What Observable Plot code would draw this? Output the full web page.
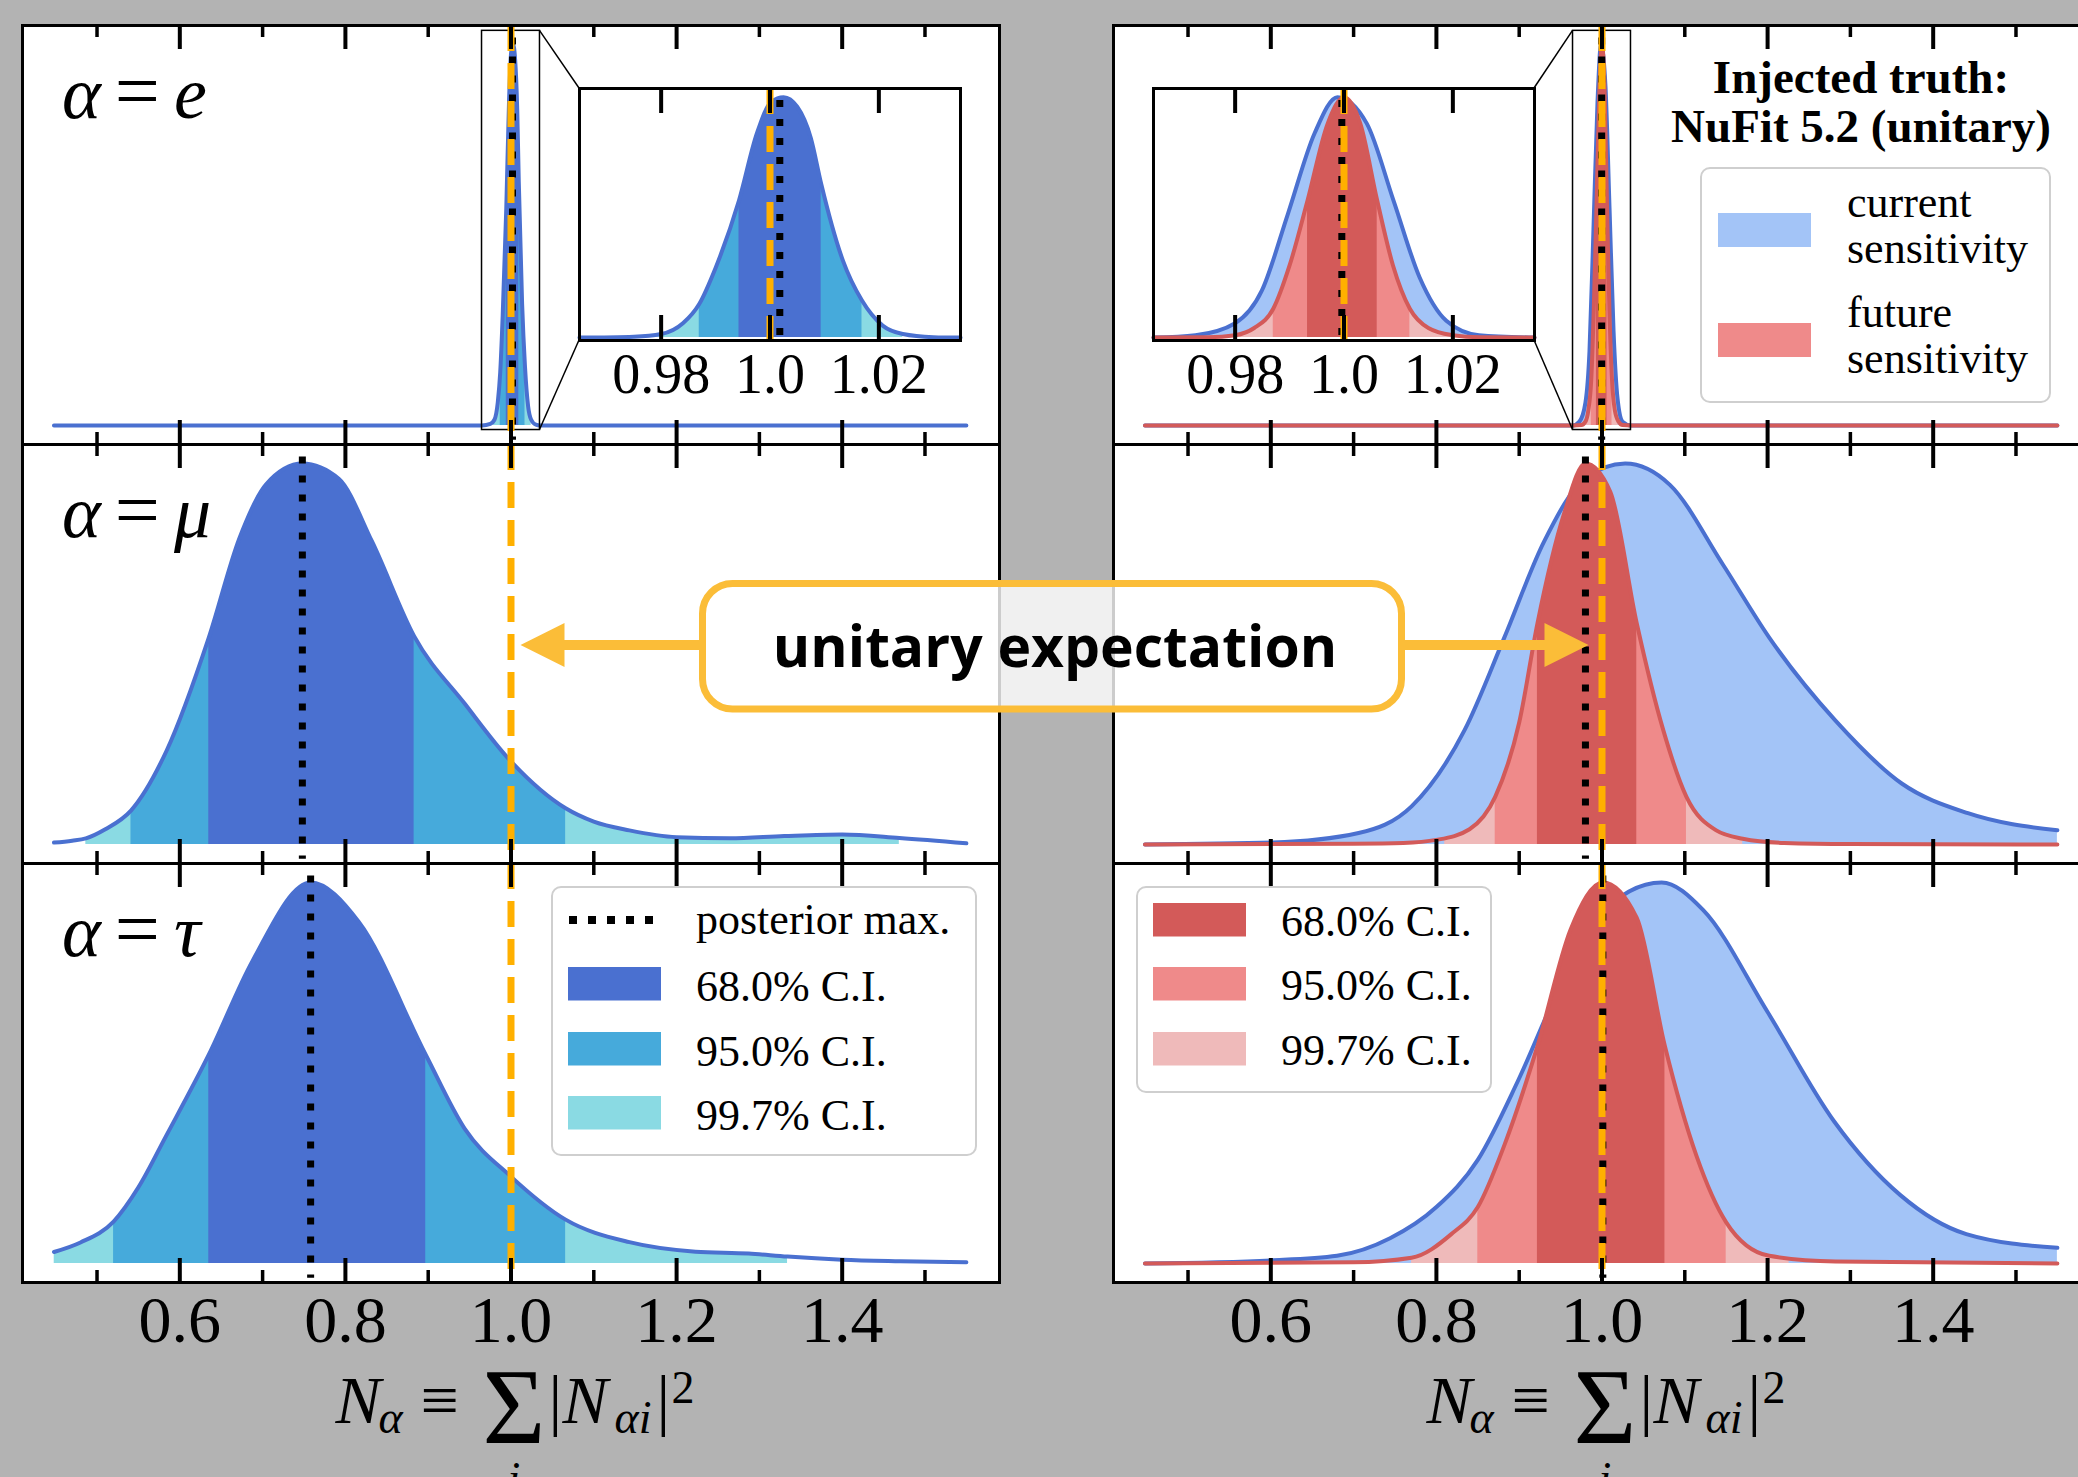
<!DOCTYPE html>
<html>
<head>
<meta charset="utf-8">
<script src="https://cdn.jsdelivr.net/npm/d3@7"></script>
<script src="https://cdn.jsdelivr.net/npm/@observablehq/plot@0.6"></script>
<style>
  html, body { margin: 0; padding: 0; background: #b3b3b3; overflow: hidden; }
  #fig { position: relative; width: 2078px; height: 1477px; overflow: hidden; background: #b3b3b3; }
  .pane { position: absolute; }
  .pane svg { display: block; overflow: visible; max-width: none !important; }
</style>
</head>
<body>
<div id="fig"></div>
<script>
// ---------------- data ----------------
const majorTicks = [0.6, 0.8, 1.0, 1.2, 1.4];
const majorTickLabels = ["0.6", "0.8", "1.0", "1.2", "1.4"];
const minorTicks = [0.5, 0.7, 0.9, 1.1, 1.3, 1.5];
const insetTicks = [0.98, 1.0, 1.02];
const insetTickLabels = ["0.98", "1.0", "1.02"];
const mainXDomain = [0.41, 1.59];
const insetXDomain = [0.965, 1.035];
const mainYDomain = [-0.05, 1.05];
const insetYDomain = [-0.012, 1.036];
const unitaryValue = 1.0;
const flavourLabels = ["e", "μ", "τ"];
const ciLabels = ["68.0% C.I.", "95.0% C.I.", "99.7% C.I."];
const posteriorLabel = "posterior max.";
const sensitivityLabels = [["current", "sensitivity"], ["future", "sensitivity"]];
const truthTitle = ["Injected truth:", "NuFit 5.2 (unitary)"];
const annotationText = "unitary expectation";

// Left column: current sensitivity (fit to data)
const curE_x = [0.448, 0.965, 0.975, 0.980, 0.984, 0.987, 0.990, 0.9943, 0.9976, 1.0002, 1.0025, 1.005, 1.0075, 1.0094, 1.0134, 1.0169, 1.0207, 1.0244, 1.030, 1.035, 1.55];
const curE_y = [0, 0, 0.004, 0.015, 0.06, 0.14, 0.29, 0.57, 0.85, 0.98, 1.0, 0.96, 0.83, 0.64, 0.32, 0.154, 0.05, 0.015, 0.002, 0, 0];
const curMu_x = [0.448, 0.47, 0.4865, 0.51, 0.541, 0.584, 0.635, 0.672, 0.704, 0.748, 0.792, 0.832, 0.883, 0.944, 1.0, 1.066, 1.10, 1.143, 1.2, 1.264, 1.33, 1.4, 1.469, 1.55];
const curMu_y = [0.005, 0.01, 0.016, 0.04, 0.089, 0.246, 0.543, 0.804, 0.945, 1.0, 0.96, 0.796, 0.547, 0.37, 0.218, 0.095, 0.06, 0.037, 0.019, 0.016, 0.022, 0.026, 0.017, 0.003];
const curTau_x = [0.448, 0.48, 0.52, 0.55, 0.583, 0.635, 0.688, 0.758, 0.816, 0.897, 0.944, 1.0, 1.066, 1.143, 1.223, 1.287, 1.334, 1.4, 1.47, 1.55];
const curTau_y = [0.03, 0.055, 0.11, 0.2, 0.333, 0.548, 0.795, 1.0, 0.897, 0.548, 0.354, 0.228, 0.115, 0.056, 0.031, 0.026, 0.018, 0.01, 0.006, 0.003];
const curE_ci = [[0.9943, 1.0094], [0.987, 1.0169], [0.979, 1.0244]];
const curMu_ci = [[0.635, 0.883], [0.541, 1.066], [0.4865, 1.469]];
const curTau_ci = [[0.635, 0.897], [0.52, 1.066], [0.448, 1.334]];
const curMax = [1.0018, 0.748, 0.758];

// Right column: injected unitary truth, current sensitivity
const uniE_x = [0.448, 0.965, 0.9727, 0.980, 0.9849, 0.9897, 0.9946, 0.9988, 1.0042, 1.0091, 1.0139, 1.0188, 1.0248, 1.035, 1.55];
const uniE_y = [0, 0, 0.01, 0.06, 0.195, 0.515, 0.85, 1.0, 0.89, 0.57, 0.25, 0.07, 0.01, 0, 0];
const uniMu_x = [0.448, 0.602, 0.706, 0.77, 0.834, 0.882, 0.93, 0.979, 1.028, 1.082, 1.146, 1.202, 1.282, 1.362, 1.442, 1.55];
const uniMu_y = [0.0, 0.005, 0.03, 0.10, 0.30, 0.543, 0.795, 0.96, 1.0, 0.944, 0.735, 0.543, 0.325, 0.16, 0.082, 0.037];
const uniTau_x = [0.448, 0.60, 0.68, 0.744, 0.80, 0.85, 0.898, 0.946, 0.994, 1.072, 1.122, 1.2, 1.28, 1.36, 1.44, 1.55];
const uniTau_y = [0.0, 0.008, 0.02, 0.066, 0.148, 0.272, 0.477, 0.712, 0.907, 1.0, 0.928, 0.66, 0.374, 0.18, 0.077, 0.041];

// Right column: injected unitary truth, future sensitivity
const futE_x = [0.448, 0.965, 0.975, 0.980, 0.9835, 0.987, 0.990, 0.9933, 0.997, 1.0, 1.003, 1.0061, 1.009, 1.0121, 1.0155, 1.020, 1.025, 1.035, 1.55];
const futE_y = [0, 0, 0.001, 0.01, 0.04, 0.12, 0.30, 0.57, 0.89, 1.0, 0.89, 0.57, 0.30, 0.12, 0.04, 0.01, 0.001, 0, 0];
const futMu_x = [0.448, 0.70, 0.76, 0.80, 0.84, 0.871, 0.90, 0.922, 0.954, 0.98, 1.01, 1.042, 1.074, 1.102, 1.138, 1.17, 1.22, 1.30, 1.55];
const futMu_y = [0, 0.002, 0.004, 0.012, 0.04, 0.125, 0.32, 0.58, 0.867, 1.0, 0.926, 0.58, 0.30, 0.125, 0.037, 0.015, 0.004, 0.001, 0];
const futTau_x = [0.448, 0.70, 0.77, 0.818, 0.85, 0.882, 0.922, 0.962, 1.001, 1.042, 1.076, 1.114, 1.15, 1.202, 1.282, 1.55];
const futTau_y = [0, 0.003, 0.015, 0.077, 0.148, 0.31, 0.57, 0.876, 1.0, 0.907, 0.57, 0.283, 0.108, 0.02, 0.005, 0];
const futE_ci = [[0.9933, 1.0061], [0.987, 1.0121], [0.9805, 1.0195]];
const futMu_ci = [[0.922, 1.042], [0.871, 1.102], [0.81, 1.17]];
const futTau_ci = [[0.922, 1.076], [0.85, 1.15], [0.77, 1.226]];
const futMax = [0.9996, 0.98, 1.001];

// ---------------- styling ----------------
const COL = {
  blue68: "#4a70d0", blue95: "#46aadb", blue99: "#8adae3", blueLine: "#4a70d0",
  curFill: "#a3c4f7",
  red68: "#d35a59", red95: "#ef8a8a", red99: "#efbaba", redLine: "#d35a59",
  orange: "#ffb000", gold: "#fbbd38", legendEdge: "#cfcfcf"
};
const SERIF = "Liberation Serif, Times New Roman, serif";
const fig = document.getElementById("fig");
const W = 977, H = 419;
const colLeft = [22, 1113];
const rowTop = [25, 444, 863];
const insetLeft = [579, 1153], insetTop = 88, insetW = 381, insetH = 252;

const rows = (xs, ys) => xs.map((x, i) => ({x, y: ys[i]}));
const bandsOf = (ci, colors) => ci.map((c, k) => ({lo: c[0], hi: c[1], color: colors[k]}));
const inInset = d => d.x >= insetXDomain[0] && d.x <= insetXDomain[1];
const blueBands = [COL.blue68, COL.blue95, COL.blue99];
const redBands = [COL.red68, COL.red95, COL.red99];

let clipUid = 0;
function renderPanel(o) {
  const marks = [];
  const clipList = [];
  for (const s of o.series) {
    if (s.fill) marks.push(Plot.areaY(s.data, {x: "x", y: "y", fill: s.fill, curve: "monotone-x"}));
    if (s.bands) for (let k = s.bands.length - 1; k >= 0; k--) {
      marks.push(Plot.areaY(s.data, {x: "x", y: "y", fill: s.bands[k].color, curve: "monotone-x"}));
      clipList.push(s.bands[k]);
    }
    marks.push(Plot.lineY(s.data, {x: "x", y: "y", stroke: s.stroke, strokeWidth: 4, curve: "monotone-x"}));
  }
  if (o.box) marks.push(Plot.rect([o.box], {x1: "x1", x2: "x2", y1: "y1", y2: "y2", fill: "none", stroke: "black", strokeWidth: 1.5}));
  marks.push(Plot.ruleX([o.max], {stroke: "black", strokeWidth: 7, strokeDasharray: "7,12", insetTop: o.maxInset[0], insetBottom: o.maxInset[1]}));
  marks.push(Plot.ruleX([unitaryValue], {stroke: COL.orange, strokeWidth: 7, strokeDasharray: "26,12"}));
  for (const [vals, len, sw] of o.ticks) {
    marks.push(Plot.ruleX(vals, {stroke: "black", strokeWidth: sw, insetBottom: o.height - len}));
    marks.push(Plot.ruleX(vals, {stroke: "black", strokeWidth: sw, insetTop: o.height - len}));
  }
  if (o.labels) marks.push(Plot.text(o.labels.vals, {x: d => d, text: (d, i) => o.labels.text[i], frameAnchor: "bottom", lineAnchor: "top", dy: 13, fontSize: o.labels.size, fill: "black", fontFamily: SERIF}));
  marks.push(Plot.frame({stroke: "black", strokeWidth: 3}));
  const svg = Plot.plot({
    width: o.width, height: o.height, margin: 0,
    x: {domain: o.xDomain, axis: null},
    y: {domain: o.yDomain, axis: null},
    style: {background: "white", overflow: "visible", fontFamily: SERIF, color: "black"},
    marks
  });
  const xs = svg.scale("x"), ys = svg.scale("y");
  const fx = xs.apply ? v => xs.apply(v) : d3.scaleLinear(xs.domain, xs.range);
  const fy = ys.apply ? v => ys.apply(v) : d3.scaleLinear(ys.domain, ys.range);
  // clip the credible-interval bands to their x-ranges
  const ns = "http://www.w3.org/2000/svg";
  const defs = document.createElementNS(ns, "defs");
  svg.insertBefore(defs, svg.firstChild);
  const areaGroups = Array.from(svg.querySelectorAll('g[aria-label="area"]'));
  for (const b of clipList) {
    const id = "bandclip" + (clipUid++);
    const cp = document.createElementNS(ns, "clipPath");
    cp.setAttribute("id", id);
    const r = document.createElementNS(ns, "rect");
    const a = fx(b.lo), c = fx(b.hi);
    r.setAttribute("x", a); r.setAttribute("width", c - a);
    r.setAttribute("y", -20); r.setAttribute("height", o.height + 40);
    cp.appendChild(r); defs.appendChild(cp);
    for (const g of areaGroups) if ((g.getAttribute("fill") || "").toLowerCase() === b.color) g.setAttribute("clip-path", `url(#${id})`);
  }
  const div = document.createElement("div");
  div.className = "pane";
  div.style.left = o.left + "px"; div.style.top = o.top + "px";
  div.style.width = o.width + "px"; div.style.height = o.height + "px";
  div.appendChild(svg);
  fig.appendChild(div);
  return {svg, fx, fy};
}

const leftSeries = [
  {data: rows(curE_x, curE_y), ci: curE_ci},
  {data: rows(curMu_x, curMu_y), ci: curMu_ci},
  {data: rows(curTau_x, curTau_y), ci: curTau_ci}
];
const rightCur = [rows(uniE_x, uniE_y), rows(uniMu_x, uniMu_y), rows(uniTau_x, uniTau_y)];
const rightFut = [
  {data: rows(futE_x, futE_y), ci: futE_ci},
  {data: rows(futMu_x, futMu_y), ci: futMu_ci},
  {data: rows(futTau_x, futTau_y), ci: futTau_ci}
];
const insetRect = {x1: insetXDomain[0], x2: insetXDomain[1], y1: insetYDomain[0], y2: insetYDomain[1]};

const mains = [[], []];
for (let r = 0; r < 3; r++) {
  const common = {
    width: W, height: H, top: rowTop[r], xDomain: mainXDomain, yDomain: mainYDomain,
    maxInset: [12.6, 4.2],
    ticks: [[majorTicks, 24, 4], [minorTicks, 12, 3.5]],
    labels: r === 2 ? {vals: majorTicks, text: majorTickLabels, size: 66} : null,
    box: r === 0 ? insetRect : null
  };
  mains[0][r] = renderPanel({...common, left: colLeft[0], max: curMax[r],
    series: [{data: leftSeries[r].data, bands: bandsOf(leftSeries[r].ci, blueBands), stroke: COL.blueLine}]});
  mains[1][r] = renderPanel({...common, left: colLeft[1], max: futMax[r],
    series: [
      {data: rightCur[r], fill: COL.curFill, stroke: COL.blueLine},
      {data: rightFut[r].data, bands: bandsOf(rightFut[r].ci, redBands), stroke: COL.redLine}
    ]});
}

// zoom insets (alpha = e)
const insetCommon = {
  width: insetW, height: insetH, top: insetTop, xDomain: insetXDomain, yDomain: insetYDomain,
  maxInset: [12, 3], ticks: [[insetTicks, 25, 4]],
  labels: {vals: insetTicks, text: insetTickLabels, size: 56}
};
renderPanel({...insetCommon, left: insetLeft[0], max: curMax[0],
  series: [{data: leftSeries[0].data.filter(inInset), bands: bandsOf(curE_ci, blueBands), stroke: COL.blueLine}]});
renderPanel({...insetCommon, left: insetLeft[1], max: futMax[0],
  series: [
    {data: rightCur[0].filter(inInset), fill: COL.curFill, stroke: COL.blueLine},
    {data: rightFut[0].data.filter(inInset), bands: bandsOf(futE_ci, redBands), stroke: COL.redLine}
  ]});

// ---------------- overlay: annotations, legends, labels ----------------
const NS = "http://www.w3.org/2000/svg";
const ov = document.createElementNS(NS, "svg");
ov.setAttribute("width", 2078); ov.setAttribute("height", 1477);
ov.style.position = "absolute"; ov.style.left = "0px"; ov.style.top = "0px";
fig.appendChild(ov);
function add(parent, tag, attrs, text) {
  const e = document.createElementNS(NS, tag);
  for (const k in attrs) e.setAttribute(k, attrs[k]);
  if (text != null) e.textContent = text;
  parent.appendChild(e);
  return e;
}

// inset connector lines
{
  const m = mains[0][0];
  const rx = colLeft[0] + m.fx(insetXDomain[1]);
  const t = rowTop[0] + m.fy(insetYDomain[1]), b = rowTop[0] + m.fy(insetYDomain[0]);
  add(ov, "line", {x1: rx, y1: t, x2: insetLeft[0], y2: insetTop, stroke: "black", "stroke-width": 1.5});
  add(ov, "line", {x1: rx, y1: b, x2: insetLeft[0], y2: insetTop + insetH, stroke: "black", "stroke-width": 1.5});
  const m2 = mains[1][0];
  const lx = colLeft[1] + m2.fx(insetXDomain[0]);
  add(ov, "line", {x1: lx, y1: t, x2: insetLeft[1] + insetW, y2: insetTop, stroke: "black", "stroke-width": 1.5});
  add(ov, "line", {x1: lx, y1: b, x2: insetLeft[1] + insetW, y2: insetTop + insetH, stroke: "black", "stroke-width": 1.5});
}

// row labels
for (let r = 0; r < 3; r++) {
  const t = add(ov, "text", {x: 62, y: rowTop[r] + 93, "font-family": SERIF, "font-size": 74, fill: "black"});
  add(t, "tspan", {"font-style": "italic"}, "α");
  add(t, "tspan", {dx: 14, "font-size": 80}, "=");
  add(t, "tspan", {dx: 14, "font-style": "italic"}, flavourLabels[r]);
}

// legend: left (posterior max + blue CIs)
{
  add(ov, "rect", {x: 552, y: 887, width: 424, height: 268, rx: 9, fill: "white", "fill-opacity": 0.85, stroke: COL.legendEdge, "stroke-width": 2});
  add(ov, "line", {x1: 569, x2: 654, y1: 920, y2: 920, stroke: "black", "stroke-width": 8, "stroke-dasharray": "8,11"});
  add(ov, "text", {x: 696, y: 934, "font-family": SERIF, "font-size": 44}, posteriorLabel);
  const ys = [967, 1032, 1096];
  ciLabels.forEach((lab, k) => {
    add(ov, "rect", {x: 568, y: ys[k], width: 93, height: 33.5, fill: blueBands[k]});
    add(ov, "text", {x: 696, y: ys[k] + 34, "font-family": SERIF, "font-size": 44}, lab);
  });
}
// legend: right (red CIs)
{
  add(ov, "rect", {x: 1137, y: 887, width: 354, height: 205, rx: 9, fill: "white", "fill-opacity": 0.85, stroke: COL.legendEdge, "stroke-width": 2});
  const ys = [903, 967, 1032];
  ciLabels.forEach((lab, k) => {
    add(ov, "rect", {x: 1153, y: ys[k], width: 93, height: 33.5, fill: redBands[k]});
    add(ov, "text", {x: 1281, y: ys[k] + 33, "font-family": SERIF, "font-size": 44}, lab);
  });
}
// title + sensitivity legend (top right)
{
  add(ov, "text", {x: 1861, y: 93, "text-anchor": "middle", "font-family": SERIF, "font-size": 47, "font-weight": "bold"}, truthTitle[0]);
  add(ov, "text", {x: 1861, y: 142, "text-anchor": "middle", "font-family": SERIF, "font-size": 47, "font-weight": "bold"}, truthTitle[1]);
  add(ov, "rect", {x: 1701, y: 168, width: 349, height: 234, rx: 9, fill: "white", "fill-opacity": 0.85, stroke: COL.legendEdge, "stroke-width": 2});
  const sw = [COL.curFill, COL.red95], py = [213, 323];
  sensitivityLabels.forEach((lines, k) => {
    add(ov, "rect", {x: 1718, y: py[k], width: 93, height: 34, fill: sw[k]});
    add(ov, "text", {x: 1847, y: py[k] + 4, "font-family": SERIF, "font-size": 44}, lines[0]);
    add(ov, "text", {x: 1847, y: py[k] + 50, "font-family": SERIF, "font-size": 44}, lines[1]);
  });
}

// "unitary expectation" annotation
{
  const m = mains[0][1];
  const tipL = colLeft[0] + m.fx(unitaryValue) + 10;
  const tipR = colLeft[1] + m.fx(unitaryValue) - 13;
  const ay = 645, head = 44, half = 22, shaft = 10;
  const boxL = 699, boxR = 1405;
  add(ov, "rect", {x: tipL + head - 1, y: ay - shaft / 2, width: boxL - tipL - head + 4, height: shaft, fill: COL.gold});
  add(ov, "polygon", {points: `${tipL},${ay} ${tipL + head},${ay - half} ${tipL + head},${ay + half}`, fill: COL.gold});
  add(ov, "rect", {x: boxR - 4, y: ay - shaft / 2, width: tipR - head - boxR + 5, height: shaft, fill: COL.gold});
  add(ov, "polygon", {points: `${tipR},${ay} ${tipR - head},${ay - half} ${tipR - head},${ay + half}`, fill: COL.gold});
  add(ov, "rect", {x: boxL + 3.5, y: 583.5, width: boxR - boxL - 7, height: 125.5, rx: 30, fill: "white", "fill-opacity": 0.8, stroke: COL.gold, "stroke-width": 7});
  add(ov, "text", {x: 1055, y: 667, "text-anchor": "middle", "font-family": "Open Sans, Noto Sans, sans-serif", "font-weight": 700, "font-size": 57, fill: "black"}, annotationText);
}

// x-axis label  N_α ≡ Σ_i |N_αi|^2  (one text element, positioned pieces)
for (let c = 0; c < 2; c++) {
  const cx = colLeft[c] + W / 2;
  const t = add(ov, "text", {"font-family": SERIF, fill: "black", "font-size": 68});
  add(t, "tspan", {x: cx - 175, y: 1423, "font-style": "italic"}, "N");
  add(t, "tspan", {x: cx - 132, y: 1433, "font-size": 46, "font-style": "italic"}, "α");
  add(t, "tspan", {x: cx - 90, y: 1423}, "≡");
  add(t, "tspan", {x: cx - 28, y: 1443, "font-size": 108}, "Σ");
  add(t, "tspan", {x: cx + 38, y: 1423}, "|");
  add(t, "tspan", {x: cx + 52, y: 1423, "font-style": "italic"}, "N");
  add(t, "tspan", {x: cx + 104, y: 1433, "font-size": 46, "font-style": "italic"}, "αi");
  add(t, "tspan", {x: cx + 146, y: 1423}, "|");
  add(t, "tspan", {x: cx + 161, y: 1403, "font-size": 46}, "2");
  add(t, "tspan", {x: cx - 3, y: 1494, "font-size": 46, "font-style": "italic"}, "i");
}
</script>
</body>
</html>
